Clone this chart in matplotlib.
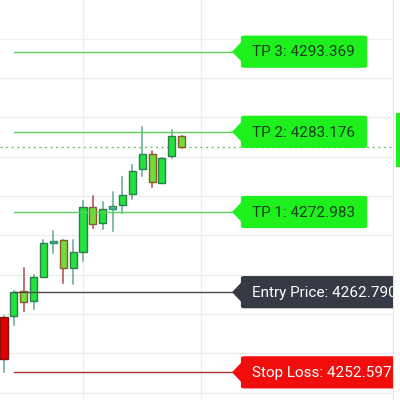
import matplotlib.pyplot as plt
from matplotlib.patches import Rectangle, Polygon, FancyBboxPatch

# velas (OHLC)
opens = [4259.64, 4259.77, 4262.94, 4261.67, 4264.72, 4269.05, 4269.43, 4265.87, 4267.90, 4273.62,
         4271.59, 4273.37, 4273.88, 4275.28, 4278.46, 4280.36, 4276.68, 4280.11, 4282.65]
highs = [4259.70, 4262.94, 4265.87, 4264.98, 4269.43, 4270.57, 4269.43, 4269.43, 4274.39, 4275.02,
         4274.26, 4275.53, 4277.44, 4278.96, 4283.80, 4280.74, 4279.85, 4283.41, 4282.65]
lows = [4252.65, 4258.62, 4260.40, 4260.66, 4264.72, 4267.78, 4263.96, 4263.83, 4266.76, 4270.95,
        4270.82, 4270.57, 4272.86, 4274.64, 4277.57, 4276.17, 4276.68, 4279.85, 4281.12]
closes = [4254.30, 4262.81, 4261.55, 4264.72, 4269.05, 4269.30, 4265.87, 4267.90, 4273.62, 4271.46,
          4273.37, 4273.75, 4275.15, 4278.20, 4280.36, 4276.80, 4279.85, 4282.65, 4281.25]

# niveles de la operacion
level_names = ['TP 3', 'TP 2', 'TP 1', 'Entry Price', 'Stop Loss']
level_values = [4293.369, 4283.176, 4272.983, 4262.790, 4252.597]
level_line_colors = ['#5ccf5c', '#5ccf5c', '#5ccf5c', '#4a4a4a', '#a83232']
level_box_colors = ['#1ef01e', '#1ef01e', '#1ef01e', '#363a45', '#f20d0d']
level_text_colors = ['#1a3d1a', '#1a3d1a', '#1a3d1a', 'white', 'white']

current_price = 4281.25

fig = plt.figure(figsize=(4, 4), dpi=100)
ax = fig.add_axes([0, 0, 393 / 400, 1])
ax.set_xlim(-0.405, 39.41)
ax.set_ylim(4249.08, 4299.94)

# cuadricula
for p in range(4250, 4300, 5):
    ax.axhline(p, color='#ececec', lw=0.8, zorder=0)
for xv in [8, 20]:
    ax.axvline(xv, color='#ececec', lw=0.8, zorder=0)

for s in ['top', 'left', 'bottom']:
    ax.spines[s].set_visible(False)
ax.spines['right'].set_color('#e6e6e6')
ax.set_xticks([])
ax.set_yticks([])

# velas
w = 0.72
for i in range(len(opens)):
    o, h, l, c = opens[i], highs[i], lows[i], closes[i]
    if i == 0:
        fill, edge, wick = '#e00000', '#8a1010', '#5fa89a'
    elif abs(c - o) < 0.5:
        fill, edge, wick = '#3fcf8a', '#2d8a6a', '#5fa89a'
    elif c >= o:
        fill, edge, wick = '#22e23c', '#2e7d4f', '#5fa89a'
    else:
        fill, edge, wick = '#6fdc3a', '#8b5a2b', '#b04848'
    ax.plot([i, i], [l, h], color=wick, lw=1.1, zorder=2)
    ax.add_patch(Rectangle((i - w / 2, min(o, c)), w, max(abs(c - o), 0.25),
                           facecolor=fill, edgecolor=edge, lw=1.0, zorder=3))

# linea de precio actual
ax.axhline(current_price, color='#6cc36c', lw=1.0, ls=(0, (1.5, 2.5)), zorder=1)

# lineas de niveles y etiquetas
tip_x = 23.1
box_x = 24.0
box_w = 12.8
half_h = 2.05
notch = 1.25
for name, val, lc, bc, tc in zip(level_names, level_values, level_line_colors,
                                 level_box_colors, level_text_colors):
    ax.plot([1.0, tip_x], [val, val], color=lc, lw=1.0, zorder=4)
    right_w = box_w if name.startswith('TP') else 20
    ax.add_patch(FancyBboxPatch((box_x, val - half_h), right_w, 2 * half_h,
                                boxstyle='round,pad=0,rounding_size=0.3',
                                facecolor=bc, edgecolor='none', zorder=5,
                                mutation_aspect=0.8))
    ax.add_patch(Polygon([[box_x + 0.05, val + notch], [tip_x, val], [box_x + 0.05, val - notch]],
                         closed=True, facecolor=bc, edgecolor='none', zorder=5))
    ax.text(25.1, val - 0.1, f'{name}: {val:.3f}', color=tc, fontsize=11,
            family=['Roboto', 'DejaVu Sans'], ha='left', va='center', zorder=6)

# etiqueta de precio en la escala (cortada)
fig.patches.append(Rectangle((396 / 400, 233 / 400), 4 / 400, 54 / 400,
                             transform=fig.transFigure, facecolor='#1ef01e',
                             edgecolor='none'))

fig.savefig('out.png', dpi=100)
